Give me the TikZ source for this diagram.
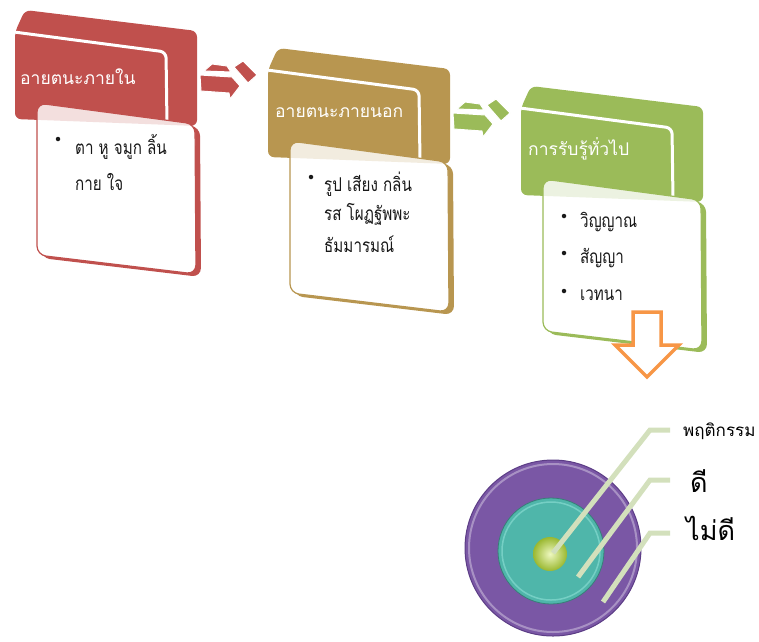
\documentclass[tikz,border=0pt]{standalone}
\usepackage{fontspec}
\newfontfamily\thai[Script=Thai]{Loma}
\newfontfamily\thaic[Script=Thai, FakeStretch=0.8]{Loma}
\definecolor{cred}{HTML}{C0504D}
\definecolor{cgold}{HTML}{B89650}
\definecolor{cgreen}{HTML}{9BBB59}
\definecolor{corange}{HTML}{F79646}
\definecolor{cpurple}{HTML}{7A57A5}
\definecolor{cpurpled}{HTML}{5C3D86}
\definecolor{cteal}{HTML}{4FB6AA}
\definecolor{ctealhi}{HTML}{8FE0D6}
\definecolor{cline}{HTML}{D3E0BC}
\definecolor{climein}{HTML}{EEF8C0}
\definecolor{climeout}{HTML}{9AB830}
\newcommand{\drawcard}[1]{%
  \fill[#1, rounded corners=6pt] (15,119) -- (15,32) -- (25,10) -- (197,31) -- (197,126) -- cycle;
  \draw[white, line width=3pt, rounded corners=6pt] (14,32) -- (166,52) -- (167,124);
  \fill[#1, rounded corners=9pt] (41,106) -- (200,127) -- (201,277) -- (41,258) -- cycle;
  \filldraw[fill=white, draw=#1, line width=1.2pt, rounded corners=9pt] (37,103) -- (195,124) -- (196,274) -- (37,255) -- cycle;
  \begin{scope}
    \clip[rounded corners=9pt] (37,103) -- (195,124) -- (196,274) -- (37,255) -- cycle;
    \fill[#1, opacity=0.18] (15,119) -- (15,32) -- (25,10) -- (197,31) -- (197,126) -- cycle;
  \end{scope}
}
\newcommand{\drawproc}[1]{%
  \filldraw[fill=#1, draw=white, line width=1pt, line join=round] (200,75) -- (232,77) -- (240,86) -- (230,99) -- (229,93) -- (201,91) -- cycle;
  \filldraw[fill=#1, draw=white, line width=1pt, line join=round] (204,71) -- (212,64) -- (227,66) -- (231,72) -- cycle;
  \filldraw[fill=#1, draw=white, line width=1pt, line join=round] (234,67) -- (243,61) -- (257,75) -- (248,83) -- cycle;
}
\begin{document}
\begin{tikzpicture}[x=1pt,y=-1pt,
  hdr/.style={anchor=west, text=white, font=\thai\fontsize{17.5}{20}\selectfont, inner sep=0pt},
  itm/.style={anchor=west, text=black!90, font=\thaic\fontsize{19}{22}\selectfont, inner sep=0pt},
  dot/.style={circle, fill=black!90, inner sep=0pt, minimum size=4.5pt},
  lbl/.style={anchor=west, text=black, inner sep=0pt},
  leader/.style={cline, line width=5pt}]
\useasboundingbox (0,0) rectangle (759,641);

% ---------- card 1 ----------
\drawcard{cred}
\node[hdr] (h1) at (20,77) {อายตนะภายใน};
\node[dot] (b11) at (58,139) {};
\node[itm] (t11) at (75,147) {ตา หู จมูก ลิ้น};
\node[itm] (t12) at (75,182) {กาย ใจ};

% ---------- arrow 1 ----------
\drawproc{cred}

% ---------- card 2 ----------
\begin{scope}[shift={(253,38)}]
  \drawcard{cgold}
  \node[hdr] (h2) at (22,75) {อายตนะภายนอก};
  \node[dot] (b21) at (58,139) {};
  \node[itm] (t21) at (71,146) {รูป เสียง กลิ่น};
  \node[itm] (t22) at (71,176) {รส โผฏฐัพพะ};
  \node[itm] (t23) at (71,206) {ธัมมารมณ์};
  \drawproc{cgreen}
\end{scope}

% ---------- card 3 ----------
\begin{scope}[shift={(506,76)}]
  \drawcard{cgreen}
  \node[hdr] (h3) at (22,73) {การรับรู้ทั่วไป};
  \node[dot] (b31) at (58,140) {};
  \node[itm] (t31) at (74,146) {วิญญาณ};
  \node[dot] (b32) at (58,177) {};
  \node[itm] (t32) at (74,182) {สัญญา};
  \node[dot] (b33) at (58,215) {};
  \node[itm] (t33) at (74,219) {เวทนา};
\end{scope}

% ---------- orange down arrow ----------
\filldraw[fill=white, draw=corange, line width=3.5pt, line join=miter]
  (633,312) -- (661,312) -- (661,345) -- (679,345) -- (647,377) -- (615,345) -- (633,345) -- cycle;

% ---------- target ----------
\filldraw[fill=cpurple, draw=cpurpled, line width=1pt] (553,548) circle (88);
\draw[white, opacity=0.35, line width=2pt] (553,548) circle (84);
\filldraw[fill=cteal, draw=cteal!70!black, line width=0.8pt] (551,551) circle (53);
\draw[ctealhi, opacity=0.6, line width=1.5pt] (551,551) circle (49);
\shade[inner color=climein, outer color=climeout] (550,554) circle (17);

\coordinate (c1) at (553,553);
\coordinate (k1) at (650,430);
\coordinate (e1) at (670,430);
\coordinate (c2) at (578,577);
\coordinate (k2) at (650,480);
\coordinate (e2) at (670,480);
\coordinate (c3) at (603,602);
\coordinate (k3) at (650,533);
\coordinate (e3) at (670,533);
\draw[leader] (c1) -- (k1) -- (e1);
\draw[leader] (c2) -- (k2) -- (e2);
\draw[leader] (c3) -- (k3) -- (e3);

\node[lbl, font=\thai\fontsize{17}{20}\selectfont] (l1) at (683,431) {พฤติกรรม};
\node[lbl, font=\thai\fontsize{27}{30}\selectfont] (l2) at (690,481) {ดี};
\node[lbl, font=\thai\fontsize{27}{30}\selectfont] (l3) at (686,528) {ไม่ดี};
\end{tikzpicture}
\end{document}
